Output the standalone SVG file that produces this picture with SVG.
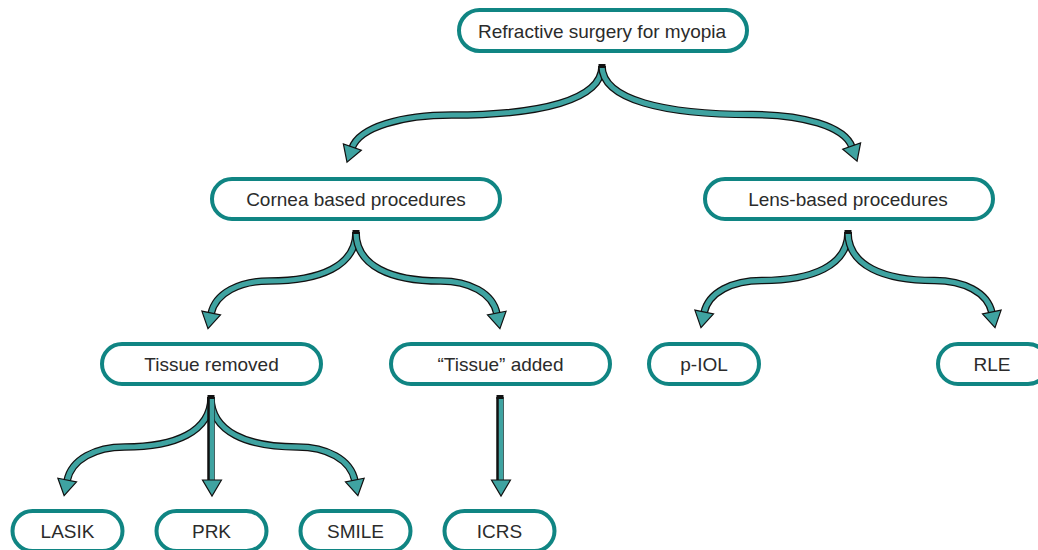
<svg xmlns="http://www.w3.org/2000/svg" width="1038" height="550" viewBox="0 0 1038 550">
<style>
.node rect{fill:#fff;stroke:#108583;stroke-width:4}
.node text{font-family:"Liberation Sans",Arial,sans-serif;font-size:19px;fill:#2b2b2b;text-anchor:middle}
.o{fill:none;stroke:#111;stroke-width:7.5;stroke-linecap:butt}
.f{fill:none;stroke:#3fa3a1;stroke-width:5;stroke-linecap:butt;marker-end:url(#ah)}
.cap{fill:#111}
</style>
<defs>
<marker id="ah" markerUnits="userSpaceOnUse" viewBox="-2 -12 22 24" markerWidth="22" markerHeight="24" refX="1" refY="0" orient="auto">
<path d="M0,-9.5 L16,0 L0,9.5 Z" fill="#3fa3a1" stroke="#111" stroke-width="1.2"/>
</marker>
</defs>
<rect width="1038" height="550" fill="#fff"/>
<g id="connectors">
<path id="c-top-cornea" class="o" d="M602,66 C602,100.3 539.5,115 452,115 C402,115 359.5,126.8 352,148"/>
<path class="f" d="M602,66 C602,100.3 539.5,115 452,115 C402,115 359.5,126.8 352,148"/>
<path id="c-top-lens" class="o" d="M602,66 C602,100 664.5,114.5 752,114.5 C802,114.5 844.5,126.1 852,147"/>
<path class="f" d="M602,66 C602,100 664.5,114.5 752,114.5 C802,114.5 844.5,126.1 852,147"/>
<rect class="cap" x="598.5" y="64" width="7" height="4"/>
<path id="c-cornea-removed" class="o" d="M356,232 C356,266.3 319.75,281 269,281 C240,281 215.35,292.8 211,314"/>
<path class="f" d="M356,232 C356,266.3 319.75,281 269,281 C240,281 215.35,292.8 211,314"/>
<path id="c-cornea-added" class="o" d="M356,232 C356,266.3 391.25,281 440.6,281 C468.8,281 492.8,292.8 497,314"/>
<path class="f" d="M356,232 C356,266.3 391.25,281 440.6,281 C468.8,281 492.8,292.8 497,314"/>
<rect class="cap" x="352.5" y="230" width="7" height="4"/>
<path id="c-lens-piol" class="o" d="M848,232 C848,266 812,280.5 761.6,280.5 C732.8,280.5 708.3,292.1 704,313"/>
<path class="f" d="M848,232 C848,266 812,280.5 761.6,280.5 C732.8,280.5 708.3,292.1 704,313"/>
<path id="c-lens-rle" class="o" d="M848,232 C848,266 884,280.5 934.4,280.5 C963.2,280.5 987.7,292.1 992,313"/>
<path class="f" d="M848,232 C848,266 884,280.5 934.4,280.5 C963.2,280.5 987.7,292.1 992,313"/>
<rect class="cap" x="844.5" y="230" width="7" height="4"/>
<path id="c-removed-lasik" class="o" d="M211,397 C211,432 175,447 124.6,447 C95.8,447 71.3,459 67,481"/>
<path class="f" d="M211,397 C211,432 175,447 124.6,447 C95.8,447 71.3,459 67,481"/>
<path id="c-removed-smile" class="o" d="M211,397 C211,432 247,447 297.4,447 C326.2,447 350.7,459 355,481"/>
<path class="f" d="M211,397 C211,432 247,447 297.4,447 C326.2,447 350.7,459 355,481"/>
<path id="c-removed-prk" class="o" d="M211,397 L211,481"/>
<path class="f" d="M212,397 L212,481" style="stroke-width:4.5"/>
<rect class="cap" x="207.5" y="395" width="7" height="4"/>
<path id="c-added-icrs" class="o" d="M500,397 L500,481"/>
<path class="f" d="M501,397 L501,481" style="stroke-width:4.5"/>
<rect class="cap" x="496.5" y="395" width="7" height="4"/>
</g>
<g id="n-top" class="node"><rect x="459" y="10" width="288" height="41" rx="20.5"/><text x="602" y="37.5">Refractive surgery for myopia</text></g>
<g id="n-cornea" class="node"><rect x="212" y="179" width="288" height="40" rx="20"/><text x="356" y="205.5">Cornea based procedures</text></g>
<g id="n-lens" class="node"><rect x="705" y="179" width="288" height="40" rx="20"/><text x="848" y="205.5">Lens-based procedures</text></g>
<g id="n-removed" class="node"><rect x="102" y="344" width="219" height="40" rx="20"/><text x="211.5" y="371">Tissue removed</text></g>
<g id="n-added" class="node"><rect x="391" y="344" width="219" height="40" rx="20"/><text x="500.5" y="371">“Tissue” added</text></g>
<g id="n-piol" class="node"><rect x="649" y="344" width="110" height="40" rx="20"/><text x="704" y="371">p-IOL</text></g>
<g id="n-rle" class="node"><rect x="938" y="344" width="110" height="40" rx="20"/><text x="992" y="371">RLE</text></g>
<g id="n-lasik" class="node"><rect x="12.5" y="511" width="110" height="40" rx="20"/><text x="67.5" y="538">LASIK</text></g>
<g id="n-prk" class="node"><rect x="156.5" y="511" width="110" height="40" rx="20"/><text x="211.5" y="538">PRK</text></g>
<g id="n-smile" class="node"><rect x="300.5" y="511" width="110" height="40" rx="20"/><text x="355.5" y="538">SMILE</text></g>
<g id="n-icrs" class="node"><rect x="444.5" y="511" width="110" height="40" rx="20"/><text x="499.5" y="538">ICRS</text></g>
</svg>
